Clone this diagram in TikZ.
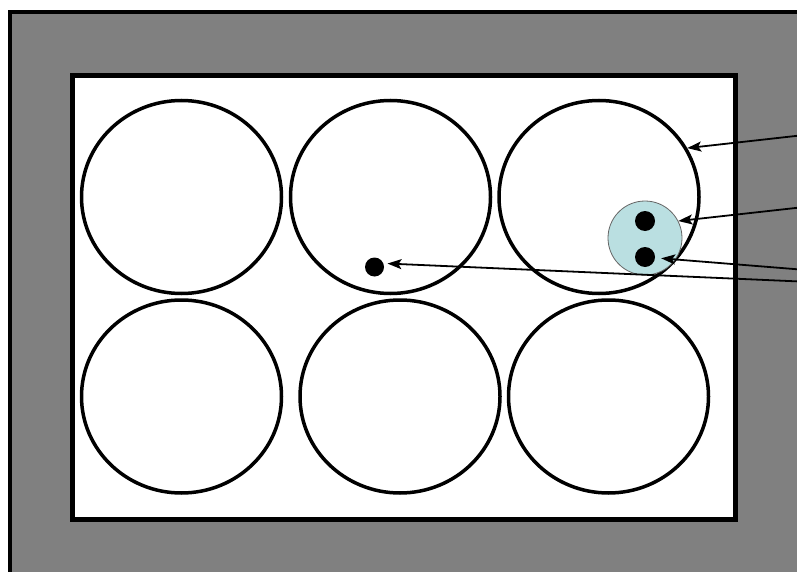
\documentclass[tikz,border=0pt]{standalone}
\usetikzlibrary{shapes.geometric,arrows.meta}
\definecolor{frame}{RGB}{128,128,128}
\definecolor{cellblue}{RGB}{186,223,225}
\tikzset{
  well/.style={ellipse, draw=black, line width=3.5pt, minimum width=200pt, minimum height=193pt, inner sep=0pt, fill=white},
  dotblack/.style={circle, fill=black, inner sep=0pt},
  ptr/.style={draw=black, line width=1.8pt, -{Stealth[length=14pt,width=10pt,inset=3pt]}},
}
\begin{document}
\begin{tikzpicture}[x=1pt,y=-1pt]
\useasboundingbox (0,0) rectangle (797,572);
\clip (0,0) rectangle (797,572);
\fill[white] (0,0) rectangle (797,572);
% outer grey plate
\draw[line width=4.5pt, fill=frame] (9.75,12) rectangle (830,600);
% inner white area
\draw[line width=5pt, fill=white] (72.5,75.5) rectangle (735.5,519.5);
% wells
\node[well] (c1) at (181.5,197) {};
\node[well] (c2) at (390.5,197) {};
\node[well] (c3) at (599,197) {};
\node[well] (c4) at (181.5,396.5) {};
\node[well] (c5) at (400,396.5) {};
\node[well] (c6) at (608.5,396.5) {};
% cell with two nuclei
\node[circle, draw=black!60, line width=0.8pt, fill=cellblue, minimum size=74pt, inner sep=0pt] (b) at (645,238) {};
\node[dotblack, minimum size=20pt] (d1) at (645,221) {};
\node[dotblack, minimum size=20pt] (d2) at (645,257) {};
\node[dotblack, minimum size=19pt] (d3) at (374.5,267) {};
% pointer start points at right edge
\coordinate (s1) at (800,135.5);
\coordinate (s2) at (800,207.5);
\coordinate (s3) at (800,269.5);
\coordinate (s4) at (800,281.5);
\draw[ptr] (s1) -- (c3.29);
\draw[ptr] (s2) -- (b.27);
\draw[ptr, shorten >=6pt] (s3) -- (d2);
\draw[ptr, shorten >=4pt] (s4) -- (d3.22);
\end{tikzpicture}
\end{document}
